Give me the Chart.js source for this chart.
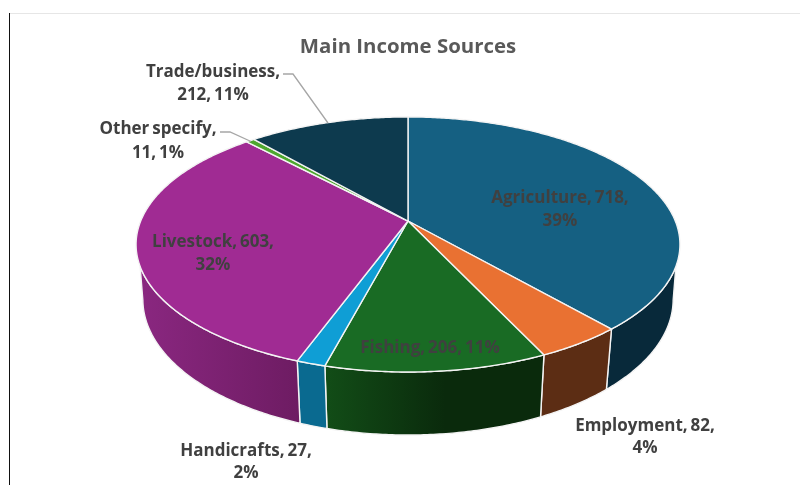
<!DOCTYPE html>
<html><head><meta charset="utf-8">
<style>html,body{margin:0;padding:0;background:#fff}#w{position:relative;width:800px;height:485px}</style>
<script src="https://cdn.jsdelivr.net/npm/chart.js@4"></script></head>
<body><div id="w"><canvas id="c" width="800" height="485"></canvas></div>
<script>
const categories = ['Agriculture','Employment','Fishing','Handicrafts','Livestock','Other specify','Trade/business'];
const values = [718,82,206,27,603,11,212];
const percents = ['39%','4%','11%','2%','32%','1%','11%'];
const topColors = ['#156082','#e97132','#196b24','#0f9ed5','#a02b93','#4ea72e','#0d3a4e'];
const wallFrom = ['#08293a','#5c2d14','#124d17','#0a6a90','#8a2780','#2f641c','#08232f'];
const wallTo = ['#08293a','#5c2d14','#0a2a0c','#0a6a90','#6e1c63','#2f641c','#08232f'];
const wallSpan = [1,1,0.55,1,1,1,1];
// label layout: [centre x, first baseline, line gap, text lines]
const labelLines = [
 [560,203,23,'Agriculture, 718,','39%','#404040'],
 [645,431,22,'Employment, 82,','4%','#404040'],
 [430,353,0,'Fishing, 206, 11%',null,'#404040'],
 [246,456,22,'Handicrafts, 27,','2%','#404040'],
 [213,247,23,'Livestock, 603,','32%','#404040'],
 [158,134,24,'Other specify,','11, 1%','#404040'],
 [213,77,23,'Trade/business,','212, 11%','#404040']
];
const leaders = [[[283,74],[293,74],[328,123]],[[220,132],[230,132],[251,141.5]]];

// perspective view of the pie disc
const K=-0.184, A=267.3, TOP={x:408,y:221,a:A,b:123.2}, BOT={x:408,y:274.5,a:A*0.975,b:131};
function rim(d,t){const u=Math.sin(t),v=-Math.cos(t),w=1+K*v;return [d.x+d.a*u/w,d.y+d.b*v/w];}
const tTop=1.923, tBot=1.762, STEP=0.01, TAU=2*Math.PI;
function trace(ctx,d,t1,t2,first){
  const n=Math.max(2,Math.ceil(Math.abs(t2-t1)/STEP));
  for(let i=0;i<=n;i++){const p=rim(d,t1+(t2-t1)*i/n);(i==0&&first)?ctx.moveTo(p[0],p[1]):ctx.lineTo(p[0],p[1]);}
}
const pie3d={id:'pie3d',
 beforeDatasetDraw(chart){
  const ctx=chart.ctx, arcs=chart.getDatasetMeta(0).data;
  const ang=arcs.map(a=>[a.startAngle+Math.PI/2,a.endAngle+Math.PI/2]);
  ctx.save();ctx.lineJoin='round';
  // side walls
  ang.forEach((g,i)=>{
    const t1=Math.max(g[0],tTop), t2=Math.min(g[1],TAU-tTop);
    if(t2<=t1) return;
    const b1=g[0]<tTop?tBot:t1, b2=g[1]>TAU-tTop?TAU-tBot:t2;
    const xs=[rim(TOP,t1)[0],rim(TOP,t2)[0]], x0=Math.min(...xs), x1=Math.max(...xs);
    const gr=ctx.createLinearGradient(x0,0,x0+(x1-x0)*wallSpan[i],0);
    gr.addColorStop(0,wallFrom[i]);gr.addColorStop(1,wallTo[i]);
    ctx.beginPath();trace(ctx,TOP,t1,t2,true);trace(ctx,BOT,b2,b1,false);ctx.closePath();
    ctx.fillStyle=gr;ctx.fill();
    ctx.strokeStyle='#f4f4f4';ctx.lineWidth=1.4;ctx.stroke();
  });
  // top faces
  ang.forEach((g,i)=>{
    ctx.beginPath();ctx.moveTo(TOP.x,TOP.y);trace(ctx,TOP,g[0],g[1],false);ctx.closePath();
    ctx.fillStyle=topColors[i];ctx.fill();
    ctx.strokeStyle='#f4f4f4';ctx.lineWidth=1.4;ctx.stroke();
  });
  ctx.restore();
  return false;
 },
 afterDraw(chart){
  const ctx=chart.ctx;ctx.save();
  // frame
  ctx.fillStyle='#e6e6e6';ctx.fillRect(10,13,790,1);
  ctx.fillStyle='#111';ctx.fillRect(9,13,1,472);
  // leaders
  ctx.strokeStyle='#a6a6a6';ctx.lineWidth=1.3;
  leaders.forEach(l=>{ctx.beginPath();l.forEach((p,i)=>i?ctx.lineTo(p[0],p[1]):ctx.moveTo(p[0],p[1]));ctx.stroke();});
  // labels
  ctx.textAlign='center';ctx.textBaseline='alphabetic';
  ctx.font='700 17px "Open Sans"';ctx.wordSpacing='-1.5px';
  labelLines.forEach(l=>{
    ctx.fillStyle=l[5];
    ctx.fillText(l[3],l[0],l[1]);
    if(l[4]) ctx.fillText(l[4],l[0],l[1]+l[2]);
  });
  ctx.restore();
 }
};
new Chart(document.getElementById('c'),{
  type:'pie',
  data:{labels:categories,datasets:[{data:values,backgroundColor:topColors}]},
  options:{responsive:false,animation:false,
   layout:{padding:{left:16,top:35}},
   plugins:{legend:{display:false},tooltip:{enabled:false},
    title:{display:true,text:'Main Income Sources',color:'#595959',font:{family:'Open Sans',size:20.4,weight:'700'},padding:{top:0,bottom:0}}}},
  plugins:[pie3d]
});
</script></body></html>
